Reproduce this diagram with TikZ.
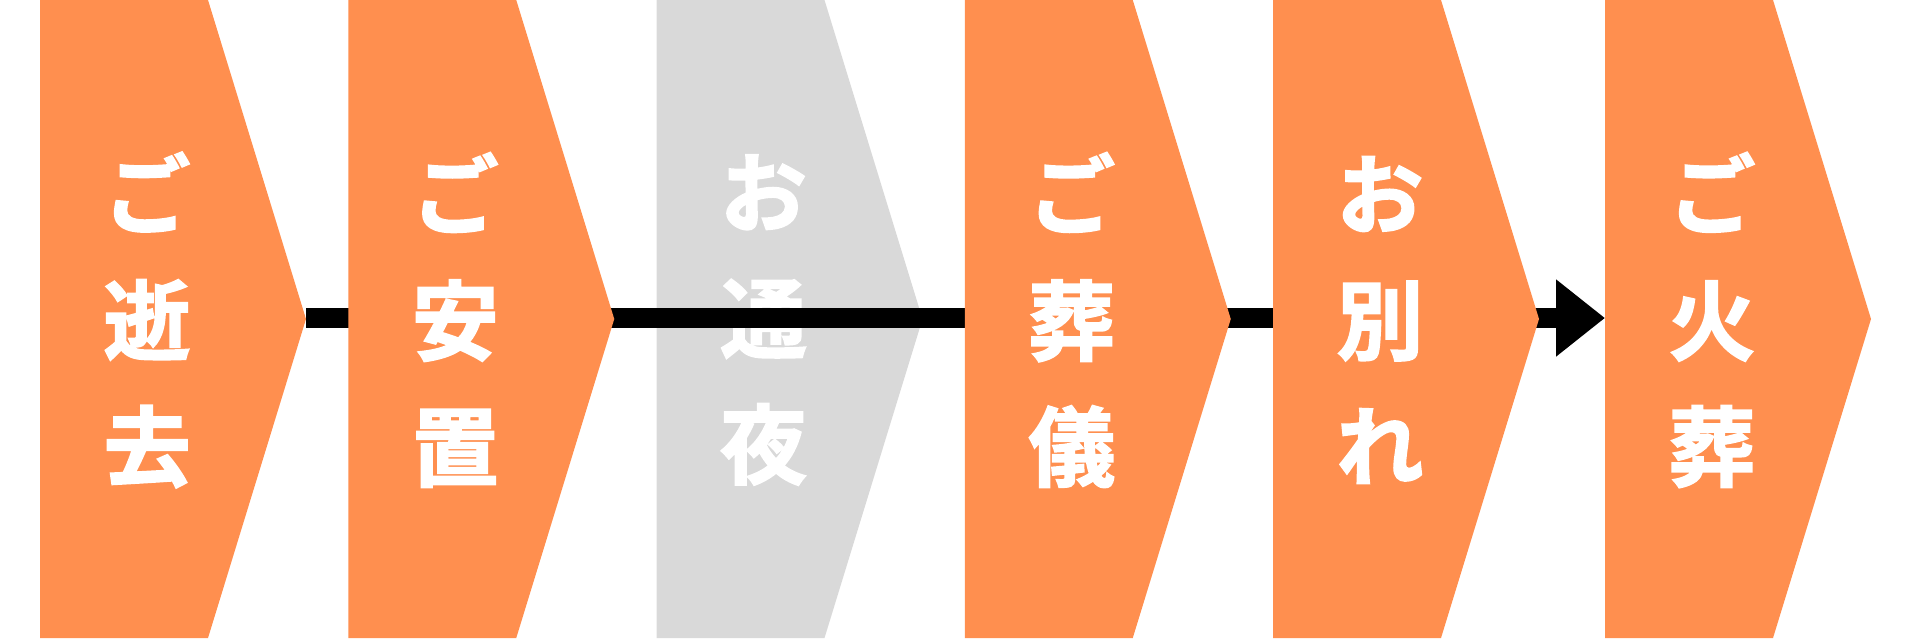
\documentclass[tikz,border=0pt]{standalone}
\usepackage{fontspec}
\newfontfamily\jp{Noto Sans CJK JP Bold}[FakeBold=2]
\usetikzlibrary{arrows.meta}
\definecolor{stepor}{RGB}{255,143,79}
\definecolor{stepgr}{RGB}{217,217,217}
\tikzset{
  chev/.style={fill=#1},
  steptext/.style={text=white, font=\jp\fontsize{87}{126}\selectfont, align=center, inner sep=0pt},
  flowbar/.style={line width=20pt, -{Triangle[width=74pt,length=49pt]}}
}
\newcommand{\chevpath}[2]{%
  \fill[chev=#2] (#1,0) -- ++(168,0) -- ++(98,319) -- ++(-98,319) -- ++(-168,0) -- cycle;}
\begin{document}
\begin{tikzpicture}[x=1pt,y=-1pt]
\useasboundingbox (0,0) rectangle (1916,638);
\coordinate (tip1) at (306,318);
\coordinate (end6) at (1605,318);
% gray step (under the bar)
\chevpath{656.5}{stepgr}
\node[steptext] (t3) at (656.5+107,320) {お\\通\\夜};
% flow bar
\draw[flowbar] (tip1) -- (end6);
% orange steps
\chevpath{40}{stepor}
\chevpath{348.25}{stepor}
\chevpath{964.75}{stepor}
\chevpath{1273}{stepor}
\chevpath{1605}{stepor}
\node[steptext] (t1) at (40+107,320) {ご\\逝\\去};
\node[steptext] (t2) at (348.25+107,320) {ご\\安\\置};
\node[steptext] (t4) at (964.75+107,320) {ご\\葬\\儀};
\node[steptext] (t5) at (1273+107,320) {お\\別\\れ};
\node[steptext] (t6) at (1605+107,320) {ご\\火\\葬};
\end{tikzpicture}
\end{document}
